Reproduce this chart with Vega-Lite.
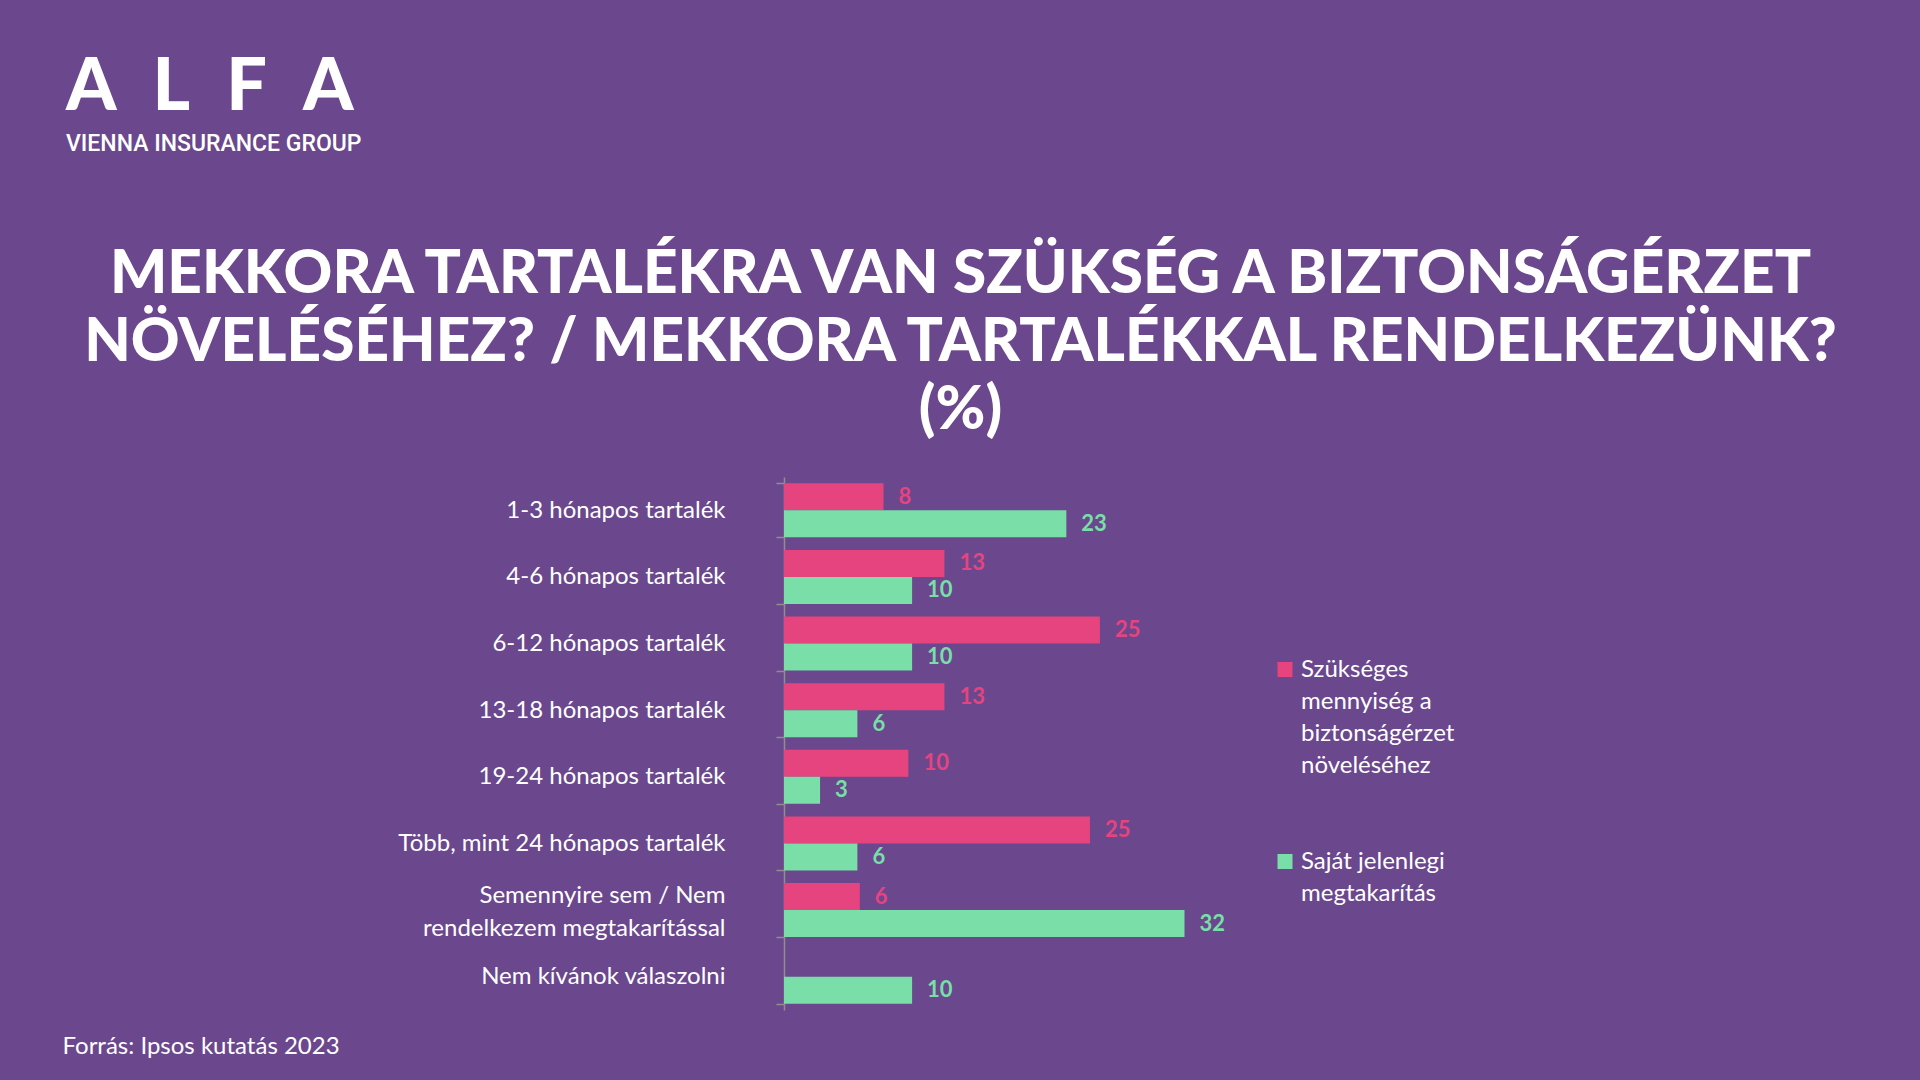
{
  "$schema": "https://vega.github.io/schema/vega-lite/v6.json",
  "autosize": {"type": "none"},
  "width": 500,
  "height": 533,
  "padding": {"left": 784, "top": 477, "right": 636, "bottom": 70},
  "background": "#6B478D",
  "config": {"view": {"stroke": null}, "font": "Lato", "style": {"guide-label": {"lineHeight": 32}}},
  "title": {
    "text": "A\u2002L\u2002F\u2002A",
    "subtitle": "VIENNA INSURANCE GROUP",
    "anchor": "start",
    "frame": "group",
    "dx": -718,
    "dy": -67,
    "offset": 20,
    "font": "Lato",
    "fontSize": 72,
    "fontWeight": 900,
    "color": "white",
    "subtitleFont": "Roboto",
    "subtitleFontSize": 23,
    "subtitleFontWeight": 500,
    "subtitleColor": "white",
    "subtitlePadding": 8
  },
  "data": {
    "values": [
      {"kategoria": "1-3 hónapos tartalék", "sorozat": "Szükséges mennyiség a biztonságérzet növeléséhez", "ertek": 8},
      {"kategoria": "1-3 hónapos tartalék", "sorozat": "Saját jelenlegi megtakarítás", "ertek": 22.7},
      {"kategoria": "4-6 hónapos tartalék", "sorozat": "Szükséges mennyiség a biztonságérzet növeléséhez", "ertek": 12.9},
      {"kategoria": "4-6 hónapos tartalék", "sorozat": "Saját jelenlegi megtakarítás", "ertek": 10.3},
      {"kategoria": "6-12 hónapos tartalék", "sorozat": "Szükséges mennyiség a biztonságérzet növeléséhez", "ertek": 25.4},
      {"kategoria": "6-12 hónapos tartalék", "sorozat": "Saját jelenlegi megtakarítás", "ertek": 10.3},
      {"kategoria": "13-18 hónapos tartalék", "sorozat": "Szükséges mennyiség a biztonságérzet növeléséhez", "ertek": 12.9},
      {"kategoria": "13-18 hónapos tartalék", "sorozat": "Saját jelenlegi megtakarítás", "ertek": 5.9},
      {"kategoria": "19-24 hónapos tartalék", "sorozat": "Szükséges mennyiség a biztonságérzet növeléséhez", "ertek": 10},
      {"kategoria": "19-24 hónapos tartalék", "sorozat": "Saját jelenlegi megtakarítás", "ertek": 2.9},
      {"kategoria": "Több, mint 24 hónapos tartalék", "sorozat": "Szükséges mennyiség a biztonságérzet növeléséhez", "ertek": 24.6},
      {"kategoria": "Több, mint 24 hónapos tartalék", "sorozat": "Saját jelenlegi megtakarítás", "ertek": 5.9},
      {"kategoria": "Semennyire sem / Nem rendelkezem megtakarítással", "sorozat": "Szükséges mennyiség a biztonságérzet növeléséhez", "ertek": 6.1},
      {"kategoria": "Semennyire sem / Nem rendelkezem megtakarítással", "sorozat": "Saját jelenlegi megtakarítás", "ertek": 32.2},
      {"kategoria": "Nem kívánok válaszolni", "sorozat": "Saját jelenlegi megtakarítás", "ertek": 10.3}
    ]
  },
  "encoding": {
    "y": {
      "field": "kategoria",
      "type": "nominal",
      "sort": null,
      "scale": {"paddingInner": 0.19, "paddingOuter": 0.095},
      "axis": {
        "orient": "left",
        "title": "Forrás: Ipsos kutatás 2023",
        "titleAngle": 0,
        "titleX": -722,
        "titleY": 576,
        "titleAlign": "left",
        "titleBaseline": "alphabetic",
        "titleFont": "Lato",
        "titleFontSize": 24,
        "titleFontWeight": "normal",
        "titleColor": "white",
        "labelFont": "Lato",
        "labelFontSize": 24,
        "labelColor": "white",
        "labelLimit": 500,
        "labelPadding": 51,
        "labelLineHeight": 33,
        "labelOffset": {"condition": {"test": "datum.value == 'Semennyire sem / Nem rendelkezem megtakarítással'", "value": -15}, "value": 0},
        "labelExpr": "datum.value == 'Semennyire sem / Nem rendelkezem megtakarítással' ? ['Semennyire sem / Nem', 'rendelkezem megtakarítással'] : datum.value",
        "tickBand": "extent",
        "tickSize": 8,
        "tickColor": "#8E8E8E",
        "tickWidth": 1.5,
        "domainColor": "#8E8E8E",
        "domainWidth": 1.5,
        "grid": false
      }
    },
    "yOffset": {
      "field": "sorozat",
      "type": "nominal",
      "sort": ["Szükséges mennyiség a biztonságérzet növeléséhez", "Saját jelenlegi megtakarítás"],
      "scale": {"paddingInner": 0, "paddingOuter": 0}
    },
    "x": {
      "field": "ertek",
      "type": "quantitative",
      "scale": {"domain": [0, 40.2]},
      "axis": {
        "orient": "top",
        "title": ["MEKKORA TARTALÉKRA VAN SZÜKSÉG A BIZTONSÁGÉRZET", "NÖVELÉSÉHEZ? / MEKKORA TARTALÉKKAL RENDELKEZÜNK?", "(%)"],
        "titleX": 176,
        "titleY": -185,
        "titleAlign": "center",
        "titleAnchor": null,
        "titleBaseline": "alphabetic",
        "titleFont": "Lato",
        "titleFontSize": 60.3,
        "titleFontWeight": 900,
        "titleLineHeight": 68,
        "titleLimit": 3000,
        "titleColor": "white",
        "labels": false,
        "ticks": false,
        "domain": false,
        "grid": false
      }
    },
    "color": {
      "field": "sorozat",
      "type": "nominal",
      "scale": {
        "domain": ["Szükséges mennyiség a biztonságérzet növeléséhez", "Saját jelenlegi megtakarítás"],
        "range": ["#E5447F", "#79DEA8"]
      },
      "legend": {
        "orient": "none",
        "legendX": 489,
        "legendY": 188,
        "title": null,
        "symbolType": "M-1,-2H1V0H-1Z",
        "symbolSize": 225,
        "symbolStrokeWidth": 0,
        "symbolOpacity": 1,
        "labelFont": "Lato",
        "labelFontSize": 24,
        "labelColor": "white",
        "labelBaseline": "alphabetic",
        "labelLimit": 400,
        "labelOffset": 4,
        "rowPadding": 72,
        "labelExpr": "datum.label == 'Szükséges mennyiség a biztonságérzet növeléséhez' ? ['Szükséges', 'mennyiség a', 'biztonságérzet', 'növeléséhez'] : ['Saját jelenlegi', 'megtakarítás']"
      }
    }
  },
  "layer": [
    {"mark": {"type": "bar", "cornerRadius": 0}},
    {
      "mark": {"type": "text", "align": "left", "baseline": "middle", "dx": 15, "font": "Lato", "fontSize": 22, "fontWeight": "bold"},
      "encoding": {"text": {"field": "ertek", "type": "quantitative", "format": ".0f"}}
    }
  ]
}
